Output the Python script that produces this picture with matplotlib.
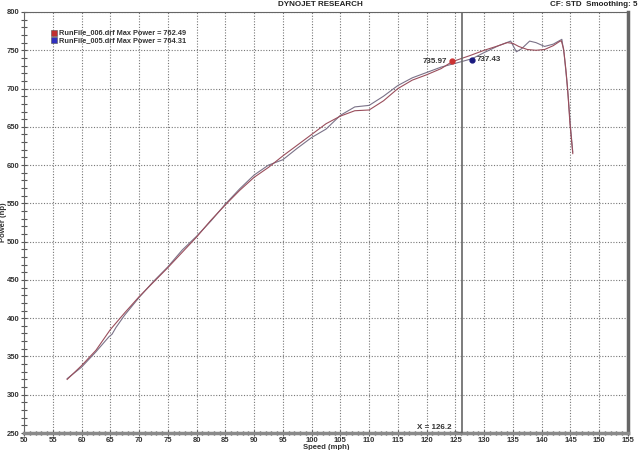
import matplotlib
matplotlib.use("Agg")
import matplotlib.pyplot as plt
from matplotlib.ticker import MultipleLocator

plt.rcParams["font.family"] = ["Liberation Sans", "DejaVu Sans"]

# Run 006 (smoother curve)
mph_006 = [57.5, 60, 62.5, 65, 67.5, 70, 72.5, 75, 77.5, 80, 82.5, 85, 87.5, 90, 92.5, 95, 97.5,
           100, 102.5, 105, 107.5, 110, 112.5, 115, 117.5, 120, 122.5, 124.4, 127.5, 130, 132.5,
           134, 135, 136, 137.5, 139, 140.5, 142, 143, 143.4, 143.8, 144.2, 144.5, 144.9, 145.4]
hp_006 = [320, 338, 358, 385, 407, 428, 447, 466, 486, 506, 528, 548, 567, 584, 597, 612, 626,
          640, 654, 664, 671, 672, 684, 700, 711, 718, 726, 735, 743, 750, 756,
          760, 759, 755, 751, 750, 751, 756, 761, 762.49, 752, 725, 700, 655, 615]

# Run 005 (wiggly curve)
mph_005 = [57.5, 60, 62.5, 64.8, 65.3, 66, 67.5, 70, 72.5, 75, 77.5, 80, 82.5, 85, 87.5, 90, 92.5,
           95, 97.5, 100, 102.5, 105, 107.5, 110, 112.5, 115, 117.5, 120, 122.5, 125, 127.9, 130,
           132.5, 134.6, 135.6, 136.5, 137.9, 139, 140.5, 142, 143.5, 143.9, 144.3, 144.6, 145, 145.4]
hp_005 = [321, 336, 356, 376, 379, 388, 404, 427, 448, 467, 489, 507, 527, 549, 569, 587, 600,
          607, 622, 636, 647, 665, 676, 678, 690, 704, 714, 721, 728, 733, 739, 747,
          756, 762, 748, 752, 762, 760, 755, 758, 764.31, 745, 715, 690, 650, 617]

legend_labels = ["RunFile_006.drf Max Power = 762.49", "RunFile_005.drf Max Power = 764.31"]
marker_x = [124.4, 127.9]
marker_y = [735.97, 737.43]
cursor_x = 126.2

fig = plt.figure(figsize=(6.41, 4.5), dpi=100)
ax = fig.add_axes([24/641, 1-433/450, (628-24)/641, (433-12)/450])

c006 = "#9a4e5c"
c005 = "#7a7288"
ax.plot(mph_005, hp_005, color=c005, lw=0.8, zorder=3)
ax.plot(mph_006, hp_006, color=c006, lw=0.8, zorder=3)

ax.set_xlim(50, 155)
ax.set_ylim(250, 800)
ax.xaxis.set_major_locator(MultipleLocator(5))
ax.yaxis.set_major_locator(MultipleLocator(50))
ax.xaxis.set_minor_locator(MultipleLocator(1))
ax.yaxis.set_minor_locator(MultipleLocator(10))
ax.grid(True, which="major", color="#777777", linestyle=(0, (1, 1.5)), lw=0.8)

ax.tick_params(axis="both", which="major", labelsize=5.5, direction="inout", length=5,
               width=0.8, color="#555555", pad=0.5)
ax.tick_params(axis="y", which="minor", direction="inout", length=4, width=0.8, color="#555555")
ax.tick_params(axis="x", which="minor", direction="inout", length=3, width=1.0, color="#444444")
ax.tick_params(axis="x", which="both", top=False)
ax.tick_params(axis="y", which="both", right=False)
for lab in ax.get_xticklabels() + ax.get_yticklabels():
    lab.set_fontweight("bold")
    lab.set_color("#333333")

for s in ["top", "left"]:
    ax.spines[s].set_color("#666666")
    ax.spines[s].set_linewidth(0.8)
ax.spines["right"].set_color("#666666")
ax.spines["right"].set_linewidth(2.5)
ax.spines["bottom"].set_color("#8a8a8a")
ax.spines["bottom"].set_linewidth(2.5)

ax.set_xlabel("Speed (mph)", fontsize=5.5, fontweight="bold", color="#333333", va="center")
ax.xaxis.set_label_coords(0.5, -14.5/421)
ax.set_ylabel("Power (hp)", fontsize=5.5, fontweight="bold", color="#333333", va="center")
ax.yaxis.set_label_coords(-20/604, 0.5)

# cursor
ax.axvline(cursor_x, color="#666666", lw=1.2, zorder=4)
ax.annotate("X = 126.2", xy=(cursor_x, 250), xytext=(118.4, 257),
            fontsize=5.8, fontweight="bold", color="#333333", va="center",
            arrowprops=dict(arrowstyle="-", color="#666666", lw=0.6, shrinkA=0, shrinkB=0))

# markers
ax.plot(marker_x[0], marker_y[0], "o", color="#cc3333", ms=3.5, zorder=5)
ax.plot(marker_x[1], marker_y[1], "o", color="#1a1a80", ms=3.5, zorder=5)
ax.text(marker_x[0] - 0.8, marker_y[0], f"{marker_y[0]:.2f}", fontsize=5.8, fontweight="bold",
        ha="right", va="center", color="#333333")
ax.text(marker_x[1] + 0.8, marker_y[1], f"{marker_y[1]:.2f}", fontsize=5.8, fontweight="bold",
        ha="left", va="center", color="#333333")

# legend
ax.plot(55.3, 772.6, "s", color="#c03030", ms=3.8, mec="#555555", mew=0.4)
ax.plot(55.3, 763.0, "s", color="#3030c0", ms=3.8, mec="#555555", mew=0.4)
ax.text(56.1, 772.6, legend_labels[0], fontsize=5.3, fontweight="bold", va="center", color="#333333")
ax.text(56.1, 763.0, legend_labels[1], fontsize=5.3, fontweight="bold", va="center", color="#333333")

fig.text(320/641, 1-4/450, "DYNOJET RESEARCH", fontsize=5.8, fontweight="bold",
         ha="center", va="center", color="#222222")
fig.text(637/641, 1-4/450, "CF: STD  Smoothing: 5", fontsize=5.8, fontweight="bold",
         ha="right", va="center", color="#222222")

fig.savefig("out.png", dpi=100)
